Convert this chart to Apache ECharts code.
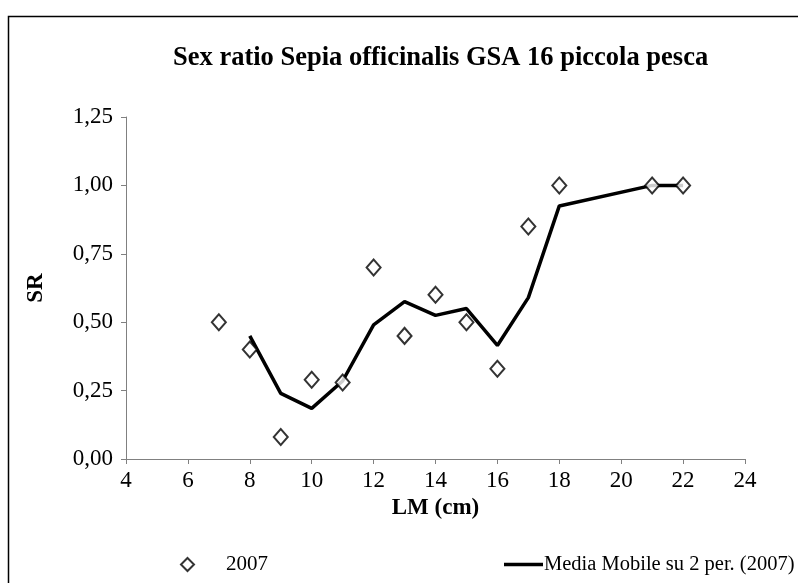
<!DOCTYPE html>
<html>
<head>
<meta charset="utf-8">
<script src="https://cdn.jsdelivr.net/npm/echarts@6/dist/echarts.min.js"></script>
<style>
  html, body { margin: 0; padding: 0; background: #fff; }
  #main { width: 798px; height: 583px; }
</style>
</head>
<body>
<div id="main"></div>
<script>
// lunghezze (cm) e rapporto sessi osservato
var lunghezze = [7, 8, 9, 10, 11, 12, 13, 14, 15, 16, 17, 18, 21, 22];
var sexRatio = [0.50, 0.40, 0.08, 0.29, 0.28, 0.70, 0.45, 0.60, 0.50, 0.33, 0.85, 1.00, 1.00, 1.00];
// media mobile su 2 periodi
var lunghezzeMedia = [8, 9, 10, 11, 12, 13, 14, 15, 16, 17, 18, 21, 22];
var mediaMobile = [0.45, 0.24, 0.185, 0.285, 0.49, 0.575, 0.525, 0.55, 0.415, 0.59, 0.925, 1.00, 1.00];

var serie1 = '2007';
var serie2 = 'Media Mobile su 2 per. (2007)';
var font = '"Liberation Serif", "Times New Roman", serif';

var myChart = echarts.init(document.getElementById('main'));

var option = {
    backgroundColor: '#fff',
    animation: false,
    title: {
        text: 'Sex ratio Sepia officinalis GSA 16 piccola pesca',
        left: 168,
        top: 40,
        textStyle: { fontFamily: font, fontSize: 26.5, fontWeight: 'bold', color: '#000' }
    },
    legend: [
        {
            data: [serie1],
            left: 175, top: 549,
            itemWidth: 13, itemHeight: 13,
            textStyle: { fontFamily: font, fontSize: 21, color: '#000', padding: [0, 0, 0, 27] }
        },
        {
            data: [{ name: serie2, icon: 'rect' }],
            left: 499, top: 549,
            itemWidth: 39, itemHeight: 3.5,
            textStyle: { fontFamily: font, fontSize: 20.5, color: '#000', padding: [0, 0, 0, -4] }
        }
    ],
    grid: { left: 126, right: 53, top: 117, bottom: 124 },
    xAxis: {
        type: 'value',
        min: 4, max: 24, interval: 2,
        name: 'LM (cm)',
        nameLocation: 'middle',
        nameGap: 38,
        nameTextStyle: { fontFamily: font, fontSize: 23, fontWeight: 'bold', color: '#000' },
        axisLine: { lineStyle: { color: '#808080', width: 1 } },
        axisTick: { inside: false, length: 5, lineStyle: { color: '#808080' } },
        axisLabel: { fontFamily: font, fontSize: 23, color: '#000', margin: 10 },
        splitLine: { show: false }
    },
    yAxis: {
        type: 'value',
        min: 0, max: 1.25, interval: 0.25,
        name: 'SR',
        nameLocation: 'middle',
        nameGap: 78,
        nameTextStyle: { fontFamily: font, fontSize: 23, fontWeight: 'bold', color: '#000' },
        axisLine: { show: true, lineStyle: { color: '#808080', width: 1 } },
        axisTick: { show: true, inside: false, length: 5, lineStyle: { color: '#808080' } },
        axisLabel: {
            fontFamily: font, fontSize: 23, color: '#000', margin: 13,
            formatter: function (v) { return v.toFixed(2).replace('.', ','); }
        },
        splitLine: { show: false }
    },
    series: [
        {
            name: serie1,
            type: 'scatter',
            symbol: 'diamond',
            symbolSize: [14, 16],
            itemStyle: { color: '#fff', borderColor: '#000', borderWidth: 2 },
            data: lunghezze.map(function (x, i) { return [x, sexRatio[i]]; }),
            z: 3
        },
        {
            name: serie2,
            type: 'line',
            showSymbol: false,
            symbol: 'none',
            lineStyle: { color: '#000', width: 3.5 },
            itemStyle: { color: '#000' },
            data: lunghezzeMedia.map(function (x, i) { return [x, mediaMobile[i]]; }),
            z: 2
        }
    ],
    graphic: [
        {
            type: 'rect',
            left: 6, top: 14,
            shape: { width: 800, height: 600 },
            style: { fill: 'none', stroke: '#000', lineWidth: 1.5 },
            silent: true
        }
    ]
};

myChart.setOption(option);
</script>
</body>
</html>
